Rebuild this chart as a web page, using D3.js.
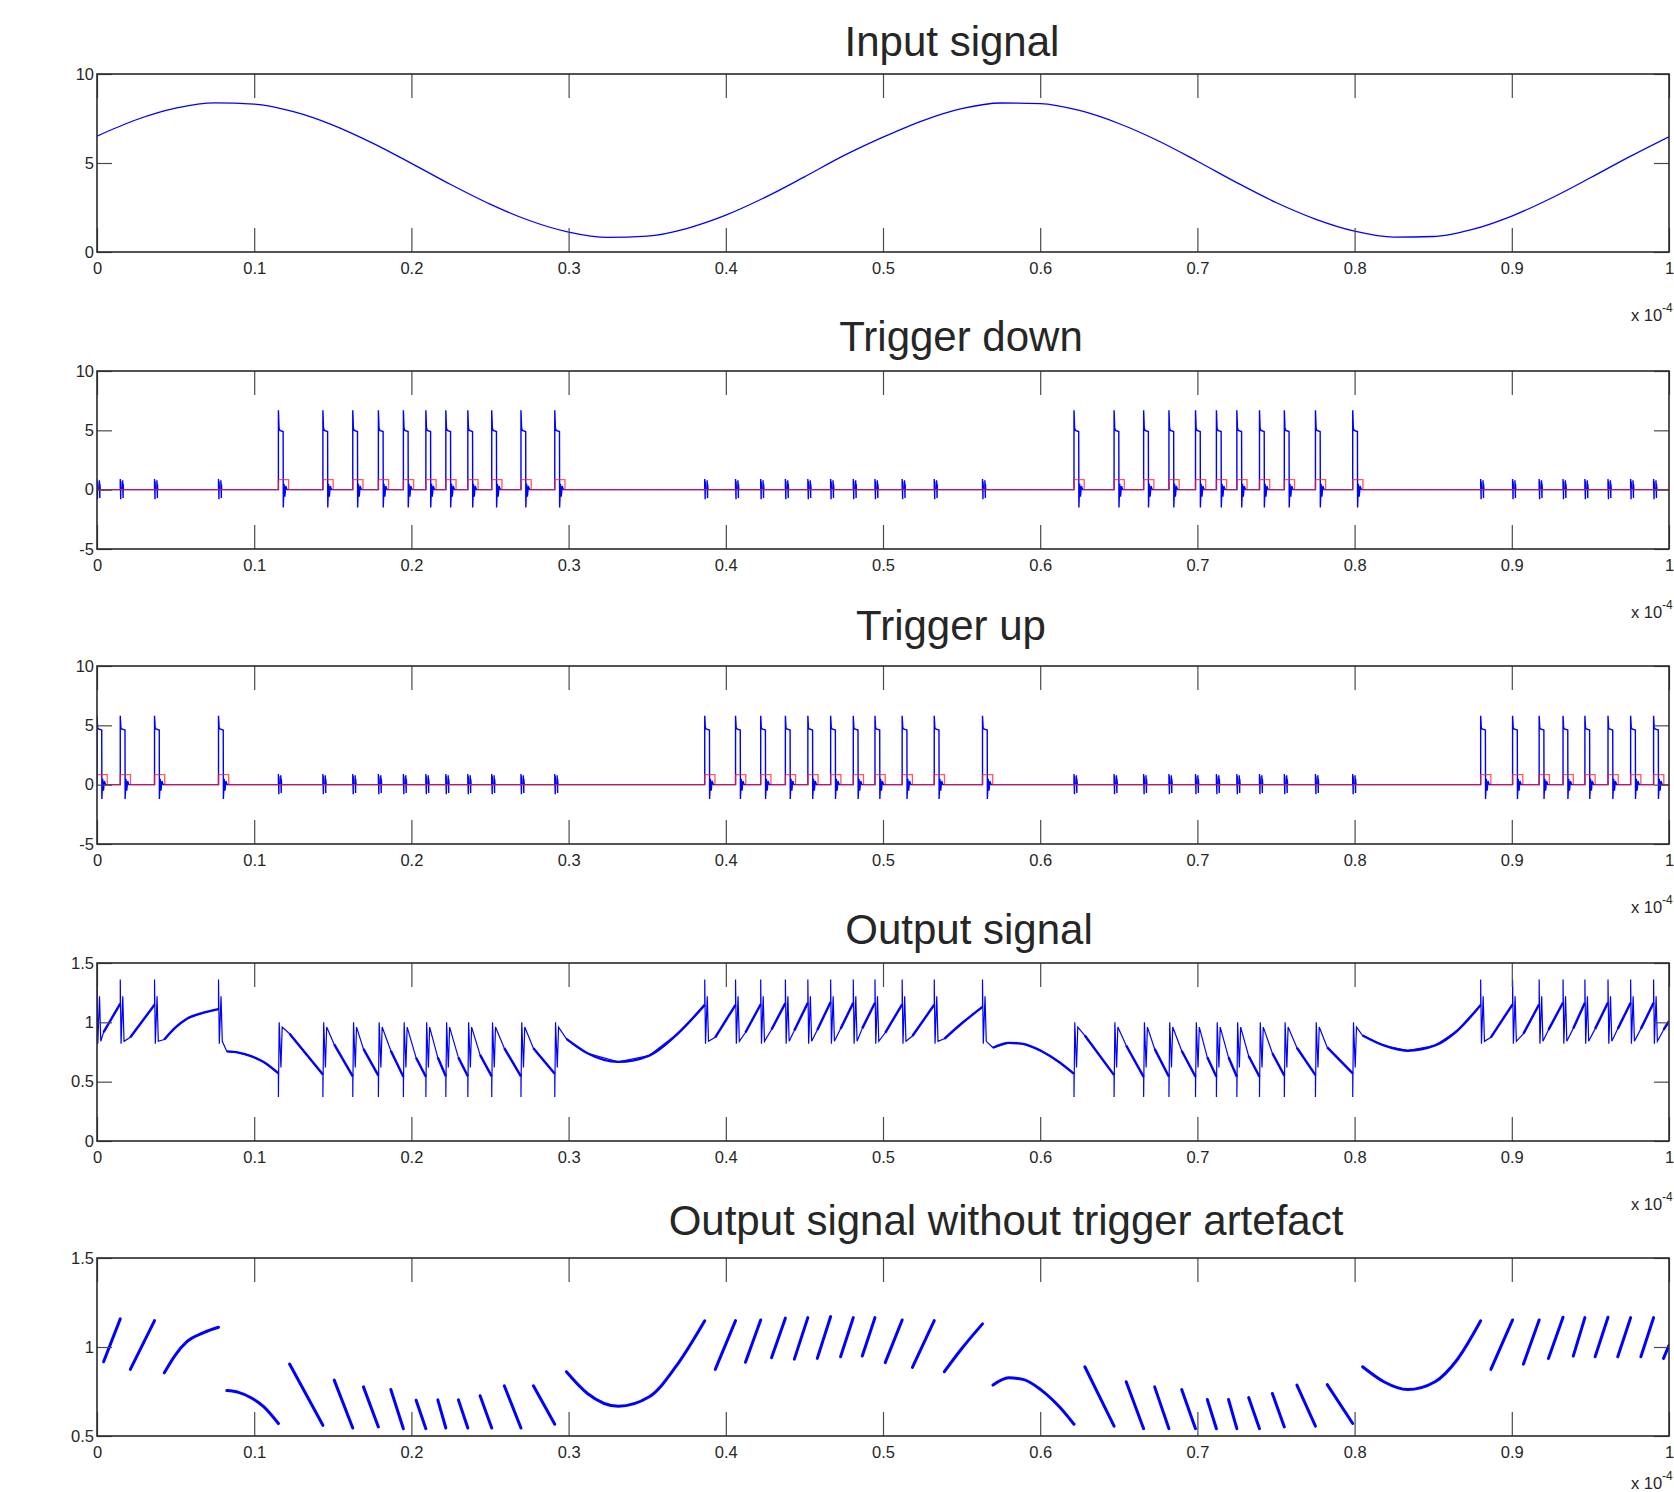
<!DOCTYPE html>
<html>
<head>
<meta charset="utf-8">
<script src="https://cdn.jsdelivr.net/npm/d3@7"></script>
<style>
  body { margin: 0; background: #fff; }
  text { font-family: "Liberation Sans", Arial, sans-serif; fill: #262626; }
</style>
</head>
<body>
<script>
// ---- data ----
var titles = ["Input signal", "Trigger down", "Trigger up", "Output signal",
              "Output signal without trigger artefact"];
var xTickValues = [0, 0.1, 0.2, 0.3, 0.4, 0.5, 0.6, 0.7, 0.8, 0.9, 1];
var xTickLabels = ["0", "0.1", "0.2", "0.3", "0.4", "0.5", "0.6", "0.7", "0.8", "0.9", "1"];
var yDomains = [[0, 10], [-5, 10], [-5, 10], [0, 1.5], [0.5, 1.5]];
var yTickValues = [[0, 5, 10], [-5, 0, 5, 10], [-5, 0, 5, 10], [0, 0.5, 1, 1.5], [0.5, 1, 1.5]];

var inputTime = [0, 0.025, 0.05, 0.075, 0.1, 0.125, 0.15, 0.175, 0.2, 0.225, 0.25, 0.275, 0.3,
  0.325, 0.35, 0.375, 0.4, 0.425, 0.45, 0.475, 0.5, 0.525, 0.55, 0.575, 0.6, 0.625, 0.65,
  0.675, 0.7, 0.725, 0.75, 0.775, 0.8, 0.825, 0.85, 0.875, 0.9, 0.925, 0.95, 0.975, 1];
var inputValue = [6.51, 7.43, 8.08, 8.38, 8.31, 7.88, 7.13, 6.13, 4.98, 3.79, 2.69, 1.77, 1.12,
  0.82, 0.89, 1.32, 2.07, 3.07, 4.22, 5.41, 6.45, 7.37, 8.05, 8.37, 8.34, 7.95, 7.22,
  6.25, 5.10, 3.90, 2.78, 1.85, 1.17, 0.84, 0.87, 1.27, 2.02, 3.02, 4.17, 5.36, 6.48];

var triggerDownTimes = [0.1154, 0.1437, 0.1627, 0.1790, 0.1949, 0.2092, 0.2219, 0.2359, 0.2511,
  0.2697, 0.2912, 0.6215, 0.6470, 0.6658, 0.6819, 0.6988, 0.7121, 0.7251, 0.7395, 0.7553,
  0.7751, 0.7988];
var triggerUpTimes = [0, 0.0148, 0.0366, 0.0773, 0.3866, 0.4062, 0.4222, 0.4379, 0.4522, 0.4667,
  0.4811, 0.4949, 0.5122, 0.5326, 0.5633, 0.8802, 0.9005, 0.9174, 0.9326, 0.9465, 0.9612,
  0.9756, 0.9902];

// shape of one trigger pulse and of the small burst left by the other trigger
var pulseOffset = [0, 0, 0.0004, 0.0009, 0.0030, 0.0031, 0.0036, 0.0041, 0.0047, 0.0055];
var downPulseValue = [0, 6.7, 5.2, 5.0, 4.9, -1.5, 0.5, -0.6, 0.3, 0];
var upPulseValue = [0, 5.8, 4.8, 4.7, 4.6, -1.2, 0.5, -0.5, 0.3, 0];
var burstOffset = [0, 0, 0.0003, 0.0003, 0.0006, 0.0015, 0.0015, 0.0018, 0.0018, 0.0021];
var burstValue = [0, 0.9, -0.8, 0.7, 0, 0, 0.8, -0.7, 0.5, 0];
var squareOffset = [0, 0, 0.0065, 0.0065];
var squareValue = [0, 0.85, 0.85, 0];

// artefact in the output signal at each trigger
var artefactOffset = [0, 0.0005, 0.0016, 0.0024];
var upArtefact = [1.36, 0.82, 1.22, 0.84];
var downArtefact = [0.37, 1.0, 0.62, 0.96];

// output signal between triggers (one piece after each trigger)
var cleanSegments = [
  [[0.0042, 0.917], [0.0148, 1.158]],
  [[0.0212, 0.874], [0.0366, 1.148]],
  [[0.0428, 0.855], [0.0498, 0.955], [0.0572, 1.030], [0.0678, 1.081], [0.0773, 1.111]],
  [[0.0826, 0.755], [0.0900, 0.745], [0.0980, 0.715], [0.1060, 0.665], [0.1154, 0.570]],
  [[0.1225, 0.904], [0.1437, 0.560]],
  [[0.1509, 0.814], [0.1627, 0.545]],
  [[0.1695, 0.776], [0.1790, 0.551]],
  [[0.1869, 0.761], [0.1949, 0.541]],
  [[0.2030, 0.701], [0.2092, 0.541]],
  [[0.2168, 0.703], [0.2219, 0.545]],
  [[0.2299, 0.703], [0.2359, 0.545]],
  [[0.2437, 0.726], [0.2511, 0.545]],
  [[0.2591, 0.782], [0.2697, 0.545]],
  [[0.2776, 0.782], [0.2912, 0.566]],
  [[0.2986, 0.861], [0.3120, 0.739], [0.3316, 0.667], [0.3513, 0.720], [0.3697, 0.908], [0.3866, 1.147]],
  [[0.3933, 0.874], [0.4062, 1.148]],
  [[0.4125, 0.914], [0.4222, 1.152]],
  [[0.4291, 0.940], [0.4379, 1.162]],
  [[0.4436, 0.932], [0.4522, 1.165]],
  [[0.4582, 0.936], [0.4667, 1.171]],
  [[0.4730, 0.945], [0.4811, 1.165]],
  [[0.4868, 0.949], [0.4949, 1.165]],
  [[0.5014, 0.912], [0.5122, 1.152]],
  [[0.5187, 0.885], [0.5326, 1.148]],
  [[0.5390, 0.861], [0.5500, 0.990], [0.5633, 1.130]],
  [[0.5700, 0.786], [0.5799, 0.827], [0.5891, 0.818], [0.6007, 0.758], [0.6122, 0.664], [0.6215, 0.566]],
  [[0.6284, 0.889], [0.6470, 0.555]],
  [[0.6547, 0.805], [0.6658, 0.541]],
  [[0.6728, 0.776], [0.6819, 0.541]],
  [[0.6900, 0.761], [0.6988, 0.541]],
  [[0.7063, 0.705], [0.7121, 0.541]],
  [[0.7198, 0.705], [0.7251, 0.541]],
  [[0.7326, 0.716], [0.7395, 0.541]],
  [[0.7477, 0.739], [0.7553, 0.551]],
  [[0.7633, 0.786], [0.7751, 0.555]],
  [[0.7826, 0.789], [0.7988, 0.570]],
  [[0.8051, 0.889], [0.8186, 0.805], [0.8337, 0.761], [0.8512, 0.805], [0.8651, 0.927], [0.8802, 1.147]],
  [[0.8867, 0.874], [0.9005, 1.152]],
  [[0.9074, 0.904], [0.9174, 1.152]],
  [[0.9233, 0.936], [0.9326, 1.167]],
  [[0.9391, 0.949], [0.9465, 1.165]],
  [[0.9530, 0.945], [0.9612, 1.167]],
  [[0.9674, 0.945], [0.9756, 1.165]],
  [[0.9821, 0.945], [0.9902, 1.165]],
  [[0.9965, 0.936], [1.0, 1.01]]
];

// ---- layout ----
var W = 1674, H = 1492;
var left = 97, right = 1669;
var panelTop = [74, 371, 666, 963, 1258];
var panelH = 178;
var titleX = [952, 961, 951, 969, 1006];
var titleGap = [18, 20, 26, 19, 23];
var exponentGap = [69, 69, 69, 69, 53];   // last one pulled up to stay on the page

var svg = d3.select("body").append("svg").attr("width", W).attr("height", H);
var x = d3.scaleLinear().domain([0, 1]).range([left, right]);

function events() {
  var ev = triggerUpTimes.map(function(t) { return {t: t, up: true}; })
    .concat(triggerDownTimes.map(function(t) { return {t: t, up: false}; }));
  ev.sort(function(a, b) { return a.t - b.t; });
  return ev;
}

function triggerTrace(own, pulseValue) {
  var pts = [[0, 0]];
  events().forEach(function(e) {
    var mine = (own === "up") === e.up;
    var off = mine ? pulseOffset : burstOffset;
    var val = mine ? pulseValue : burstValue;
    off.forEach(function(o, k) { pts.push([e.t + o, val[k]]); });
  });
  pts.push([1, 0]);
  return pts;
}

function squareTrace(times) {
  var pts = [[0, 0]];
  times.forEach(function(t) {
    squareOffset.forEach(function(o, k) { pts.push([t + o, squareValue[k]]); });
  });
  pts.push([1, 0]);
  return pts;
}

function outputTrace() {
  var pts = [[0, 1.0]];
  events().forEach(function(e, k) {
    var a = e.up ? upArtefact : downArtefact;
    artefactOffset.forEach(function(o, j) { pts.push([e.t + o, a[j]]); });
    cleanSegments[k].forEach(function(p) { pts.push(p); });
  });
  return pts;
}

function panel(i) {
  var top = panelTop[i];
  var y = d3.scaleLinear().domain(yDomains[i]).range([top + panelH, top]);
  var g = svg.append("g");

  g.append("clipPath").attr("id", "clip" + i)
    .append("rect").attr("x", left).attr("y", top).attr("width", right - left).attr("height", panelH);
  var plot = g.append("g").attr("clip-path", "url(#clip" + i + ")");

  // axes, MATLAB style: ticks inside on all four sides
  g.append("g").attr("transform", "translate(0," + (top + panelH) + ")")
    .call(d3.axisBottom(x).tickValues(xTickValues)
      .tickFormat(function(d, k) { return xTickLabels[k]; })
      .tickSizeInner(-24).tickSizeOuter(0).tickPadding(10));
  g.append("g").attr("transform", "translate(0," + top + ")")
    .call(d3.axisTop(x).tickValues(xTickValues).tickFormat("")
      .tickSizeInner(-24).tickSizeOuter(0));
  g.append("g").attr("transform", "translate(" + left + ",0)")
    .call(d3.axisLeft(y).tickValues(yTickValues[i]).tickFormat(function(d) { return String(d); })
      .tickSizeInner(-15).tickSizeOuter(0).tickPadding(3));
  g.append("g").attr("transform", "translate(" + right + ",0)")
    .call(d3.axisRight(y).tickValues(yTickValues[i]).tickFormat("")
      .tickSizeInner(-15).tickSizeOuter(0));
  g.selectAll(".domain").remove();
  g.selectAll(".tick line").attr("stroke", "#4a4a4a").attr("stroke-width", 1.2);
  g.selectAll(".tick text").attr("font-size", 16.5).attr("fill", "#262626")
    .style("font-family", "'Liberation Sans', Arial, sans-serif");

  g.append("rect").attr("x", left).attr("y", top).attr("width", right - left).attr("height", panelH)
    .attr("fill", "none").attr("stroke", "#2a2a2a").attr("stroke-width", 1.6);

  g.append("text").attr("x", titleX[i]).attr("y", top - titleGap[i])
    .attr("text-anchor", "middle").attr("font-size", 42).text(titles[i]);

  // x-axis exponent, bottom right
  var ey = top + panelH + exponentGap[i];
  g.append("text").attr("x", 1631).attr("y", ey).attr("font-size", 16.5).text("x 10");
  g.append("text").attr("x", 1662).attr("y", ey - 9).attr("font-size", 12).text("-4");

  return {plot: plot, y: y};
}

function line(y) {
  return d3.line().x(function(d) { return x(d[0]); }).y(function(d) { return y(d[1]); });
}

// 1. input signal
var p0 = panel(0);
p0.plot.append("path")
  .datum(inputTime.map(function(t, k) { return [t, inputValue[k]]; }))
  .attr("d", line(p0.y).curve(d3.curveMonotoneX))
  .attr("fill", "none").attr("stroke", "#0000ff").attr("stroke-width", 1.3);

// 2. trigger down
var p1 = panel(1);
p1.plot.append("path").datum(triggerTrace("down", downPulseValue)).attr("d", line(p1.y))
  .attr("fill", "none").attr("stroke", "#0000ff").attr("stroke-width", 1.4);
p1.plot.append("path").datum(squareTrace(triggerDownTimes)).attr("d", line(p1.y))
  .attr("fill", "none").attr("stroke", "#ff2020").attr("stroke-width", 1.3).attr("stroke-opacity", 0.75);

// 3. trigger up
var p2 = panel(2);
p2.plot.append("path").datum(triggerTrace("up", upPulseValue)).attr("d", line(p2.y))
  .attr("fill", "none").attr("stroke", "#0000ff").attr("stroke-width", 1.4);
p2.plot.append("path").datum(squareTrace(triggerUpTimes)).attr("d", line(p2.y))
  .attr("fill", "none").attr("stroke", "#ff2020").attr("stroke-width", 1.3).attr("stroke-opacity", 0.75);

// 4. output signal
var p3 = panel(3);
p3.plot.append("path").datum(outputTrace()).attr("d", line(p3.y))
  .attr("fill", "none").attr("stroke", "#0000ff").attr("stroke-width", 1.2);
p3.plot.selectAll("path.seg").data(cleanSegments).enter().append("path").attr("class", "seg")
  .attr("d", line(p3.y).curve(d3.curveMonotoneX))
  .attr("fill", "none").attr("stroke", "#0000ff").attr("stroke-width", 2.4);

// 5. output signal without trigger artefact
var p4 = panel(4);
p4.plot.selectAll("path.seg").data(cleanSegments).enter().append("path").attr("class", "seg")
  .attr("d", line(p4.y).curve(d3.curveMonotoneX))
  .attr("fill", "none").attr("stroke", "#0000ff").attr("stroke-width", 3)
  .attr("stroke-linecap", "round");
</script>
</body>
</html>
